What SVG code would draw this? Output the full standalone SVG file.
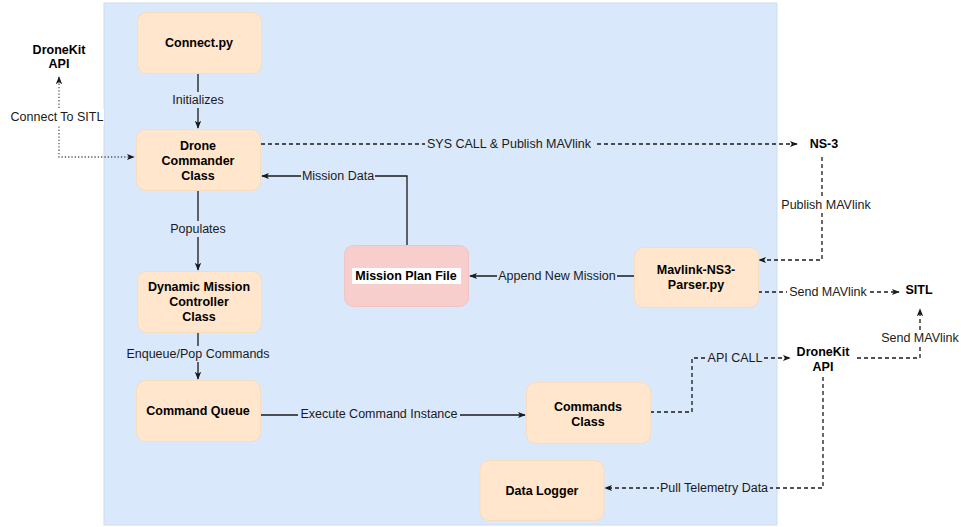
<svg xmlns="http://www.w3.org/2000/svg" width="961" height="527" viewBox="0 0 961 527">
<style>
.node{fill:#ffe6cc;stroke:#f7dcbd;stroke-width:1}
.red{fill:#f8cecc;stroke:#f0c4c2;stroke-width:1}
.nt{font-family:"Liberation Sans",Arial,sans-serif;font-size:12.5px;font-weight:bold;fill:#000;text-anchor:middle;dominant-baseline:central}
.et{font-family:"Liberation Sans",Arial,sans-serif;font-size:12.5px;fill:#1a1a1a;text-anchor:middle;dominant-baseline:central}
.ln{fill:none;stroke:#1a1a1a;stroke-width:1.3}
.dash{stroke-dasharray:4 3}
.dot{stroke:#555;stroke-dasharray:1.3 2}
.bb{fill:#dae8fc}
.bw{fill:#ffffff}
</style>
<defs>
<marker id="ah" viewBox="0 0 10 10" refX="9" refY="5" markerWidth="8" markerHeight="8" markerUnits="userSpaceOnUse" orient="auto">
<path d="M0,1 L10,5 L0,9 L2.5,5 z" fill="#1a1a1a"/>
</marker>
<marker id="ahs" viewBox="0 0 10 10" refX="1" refY="5" markerWidth="8" markerHeight="8" markerUnits="userSpaceOnUse" orient="auto">
<path d="M10,1 L0,5 L10,9 L7.5,5 z" fill="#1a1a1a"/>
</marker>
</defs>
<rect x="0" y="0" width="961" height="527" fill="#ffffff"/>
<rect id="container" x="104" y="3" width="673" height="522" fill="#dae8fc" stroke="#cddcf0" stroke-width="1"/>

<g id="connectors">
<!-- Initializes -->
<path class="ln" d="M198,73 L198,128" marker-end="url(#ah)"/>
<rect class="bb" x="172" y="92" width="52" height="16"/>
<text class="et" x="198" y="100">Initializes</text>
<!-- Connect To SITL -->
<path class="ln dot" d="M59,77 L59,157 L134,157" marker-start="url(#ahs)" marker-end="url(#ah)"/>
<rect class="bw" x="10" y="109" width="94" height="16"/>
<text class="et" x="57" y="117">Connect To SITL</text>
<!-- SYS CALL -->
<path class="ln dash" d="M261,144 L797,144" marker-end="url(#ah)"/>
<rect class="bb" x="425" y="136" width="169" height="16"/>
<text class="et" x="509" y="144">SYS CALL &amp; Publish MAVlink</text>
<!-- Mission Data -->
<path class="ln" d="M407,245 L407,176 L262,176" marker-end="url(#ah)"/>
<rect class="bb" x="301" y="168" width="74" height="16"/>
<text class="et" x="338" y="176">Mission Data</text>
<!-- Populates -->
<path class="ln" d="M198,190 L198,270" marker-end="url(#ah)"/>
<rect class="bb" x="171" y="221" width="55" height="16"/>
<text class="et" x="198" y="229">Populates</text>
<!-- Enqueue/Pop -->
<path class="ln" d="M198,332 L198,379" marker-end="url(#ah)"/>
<rect class="bb" x="126" y="346" width="145" height="16"/>
<text class="et" x="198" y="354">Enqueue/Pop Commands</text>
<!-- Execute -->
<path class="ln" d="M260,415 L525,415" marker-end="url(#ah)"/>
<rect class="bb" x="298" y="407" width="162" height="16"/>
<text class="et" x="379" y="414">Execute Command Instance</text>
<!-- Append New Mission -->
<path class="ln" d="M634,276 L470,276" marker-end="url(#ah)"/>
<rect class="bb" x="497" y="268" width="120" height="16"/>
<text class="et" x="557" y="276">Append New Mission</text>
<!-- Publish MAVlink -->
<path class="ln dash" d="M822,157 L822,260 L759,260" marker-end="url(#ah)"/>
<rect class="bw" x="781" y="197" width="91" height="16"/>
<text class="et" x="826" y="205">Publish MAVlink</text>
<!-- Send MAVlink (parser -> SITL) -->
<path class="ln dash" d="M758,292 L899,292" marker-end="url(#ah)"/>
<rect class="bw" x="787" y="284" width="82" height="16"/>
<text class="et" x="828" y="292">Send MAVlink</text>
<!-- API CALL -->
<path class="ln dash" d="M650,412 L692,412 L692,358 L790,358" marker-end="url(#ah)"/>
<rect class="bb" x="707" y="350" width="57" height="16"/>
<text class="et" x="735" y="358">API CALL</text>
<!-- Send MAVlink (DroneKit -> SITL) -->
<path class="ln dash" d="M857,358 L920,358 L920,309" marker-end="url(#ah)"/>
<rect class="bw" x="881" y="330" width="79" height="16"/>
<text class="et" x="920" y="338">Send MAVlink</text>
<!-- Pull Telemetry Data -->
<path class="ln dash" d="M823,377 L823,488 L605,488" marker-end="url(#ah)"/>
<rect class="bb" x="659" y="480" width="111" height="16"/>
<text class="et" x="714" y="488">Pull Telemetry Data</text>
</g>

<g id="node-connect">
<rect class="node" x="137.5" y="12.5" width="124" height="61" rx="9"/>
<text class="nt" x="199" y="43">Connect.py</text>
</g>
<g id="node-dronekit-left">
<text class="nt" x="59" y="50">DroneKit</text>
<text class="nt" x="59" y="64">API</text>
</g>
<g id="node-drone-commander">
<rect class="node" x="136.5" y="129.5" width="124" height="61" rx="9"/>
<text class="nt" x="198" y="146">Drone</text>
<text class="nt" x="198" y="161">Commander</text>
<text class="nt" x="198" y="176">Class</text>
</g>
<g id="node-dynamic">
<rect class="node" x="137.5" y="271.5" width="124" height="61" rx="9"/>
<text class="nt" x="199" y="287">Dynamic Mission</text>
<text class="nt" x="199" y="302">Controller</text>
<text class="nt" x="199" y="317">Class</text>
</g>
<g id="node-command-queue">
<rect class="node" x="136.5" y="380.5" width="124" height="61" rx="9"/>
<text class="nt" x="198" y="411">Command Queue</text>
</g>
<g id="node-mission-plan">
<rect class="red" x="344.5" y="245.5" width="124" height="61" rx="9"/>
<rect x="352" y="268" width="109" height="16" fill="#ffffff"/>
<text class="nt" x="406" y="276">Mission Plan File</text>
</g>
<g id="node-parser">
<rect class="node" x="634.5" y="247.5" width="124" height="60" rx="9"/>
<text class="nt" x="696" y="270">Mavlink-NS3-</text>
<text class="nt" x="696" y="285">Parser.py</text>
</g>
<g id="node-ns3">
<text class="nt" x="824" y="144">NS-3</text>
</g>
<g id="node-sitl">
<text class="nt" x="919" y="290">SITL</text>
</g>
<g id="node-dronekit-right">
<text class="nt" x="823" y="352">DroneKit</text>
<text class="nt" x="823" y="367">API</text>
</g>
<g id="node-commands">
<rect class="node" x="526.5" y="382.5" width="124" height="61" rx="9"/>
<text class="nt" x="588" y="407">Commands</text>
<text class="nt" x="588" y="422">Class</text>
</g>
<g id="node-data-logger">
<rect class="node" x="480" y="460.5" width="124" height="60" rx="9"/>
<text class="nt" x="542" y="491">Data Logger</text>
</g>
</svg>
